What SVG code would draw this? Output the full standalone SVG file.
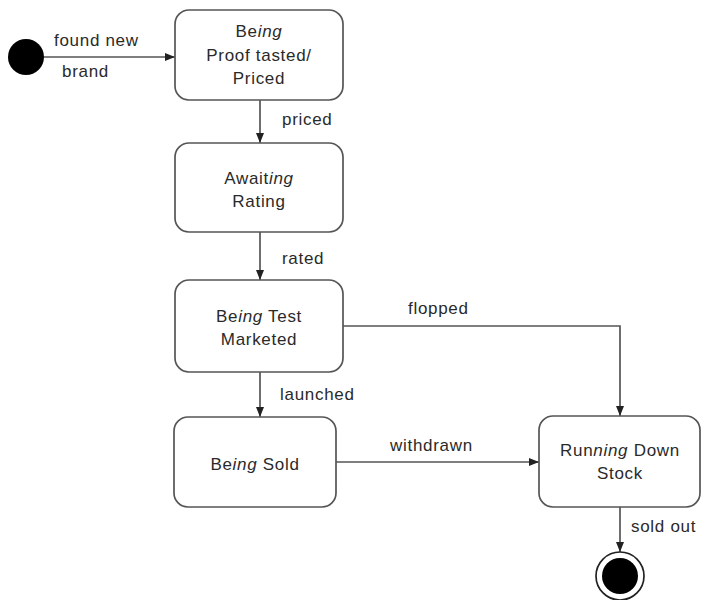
<svg xmlns="http://www.w3.org/2000/svg" width="702" height="600" viewBox="0 0 702 600">
<defs>
<marker id="arr" viewBox="0 0 10 8" refX="10" refY="4" markerWidth="10" markerHeight="8" markerUnits="userSpaceOnUse" orient="auto">
<path d="M0,0 L10,4 L0,8 Z" fill="#222"/>
</marker>
</defs>
<style>
.st{fill:#fff;stroke:#555;stroke-width:1.7}
.t{font-family:"Liberation Sans",Arial,sans-serif;font-size:17px;letter-spacing:0.7px;fill:#2a2a2a}
.c{text-anchor:middle}
.e{stroke:#555;stroke-width:1.7;fill:none;marker-end:url(#arr)}
</style>
<rect width="702" height="600" fill="#fff"/>
<g id="connectors">
<line class="e" x1="44" y1="57" x2="175" y2="57"/>
<line class="e" x1="260" y1="100" x2="260" y2="143"/>
<line class="e" x1="260" y1="232" x2="260" y2="280"/>
<polyline class="e" points="343,326 620,326 620,416"/>
<line class="e" x1="260" y1="372" x2="260" y2="417"/>
<line class="e" x1="336" y1="462" x2="539" y2="462"/>
<line class="e" x1="620" y1="507" x2="620" y2="552"/>
<text class="t" x="54" y="46">found new</text>
<text class="t" x="62" y="77">brand</text>
<text class="t" x="282" y="125">priced</text>
<text class="t" x="282" y="264">rated</text>
<text class="t" x="408" y="314">flopped</text>
<text class="t" x="280" y="400">launched</text>
<text class="t" x="390" y="451">withdrawn</text>
<text class="t" x="631" y="532">sold out</text>
</g>
<g id="initial">
<circle cx="26" cy="57" r="18" fill="#000"/>
</g>
<g id="proof">
<rect class="st" x="175" y="10" width="168" height="90" rx="14"/>
<text class="t c" x="259" y="37">Be<tspan font-style="italic">ing</tspan></text>
<text class="t c" x="259" y="61">Proof tasted/</text>
<text class="t c" x="259" y="84">Priced</text>
</g>
<g id="awaiting">
<rect class="st" x="175" y="143" width="168" height="89" rx="14"/>
<text class="t c" x="259" y="184">Await<tspan font-style="italic">ing</tspan></text>
<text class="t c" x="259" y="207">Rating</text>
</g>
<g id="testmarketed">
<rect class="st" x="175" y="280" width="168" height="92" rx="14"/>
<text class="t c" x="259" y="322">Be<tspan font-style="italic">ing</tspan> Test</text>
<text class="t c" x="259" y="345">Marketed</text>
</g>
<g id="sold">
<rect class="st" x="174" y="417" width="162" height="90" rx="14"/>
<text class="t c" x="255" y="470">Be<tspan font-style="italic">ing</tspan> Sold</text>
</g>
<g id="running">
<rect class="st" x="539" y="416" width="161" height="91" rx="14"/>
<text class="t c" x="620" y="456">Run<tspan font-style="italic">ning</tspan> Down</text>
<text class="t c" x="620" y="479">Stock</text>
</g>
<g id="final">
<circle cx="620" cy="576" r="24" fill="#fff" stroke="#222" stroke-width="1.7"/>
<circle cx="620" cy="576" r="18" fill="#000"/>
</g>
</svg>
